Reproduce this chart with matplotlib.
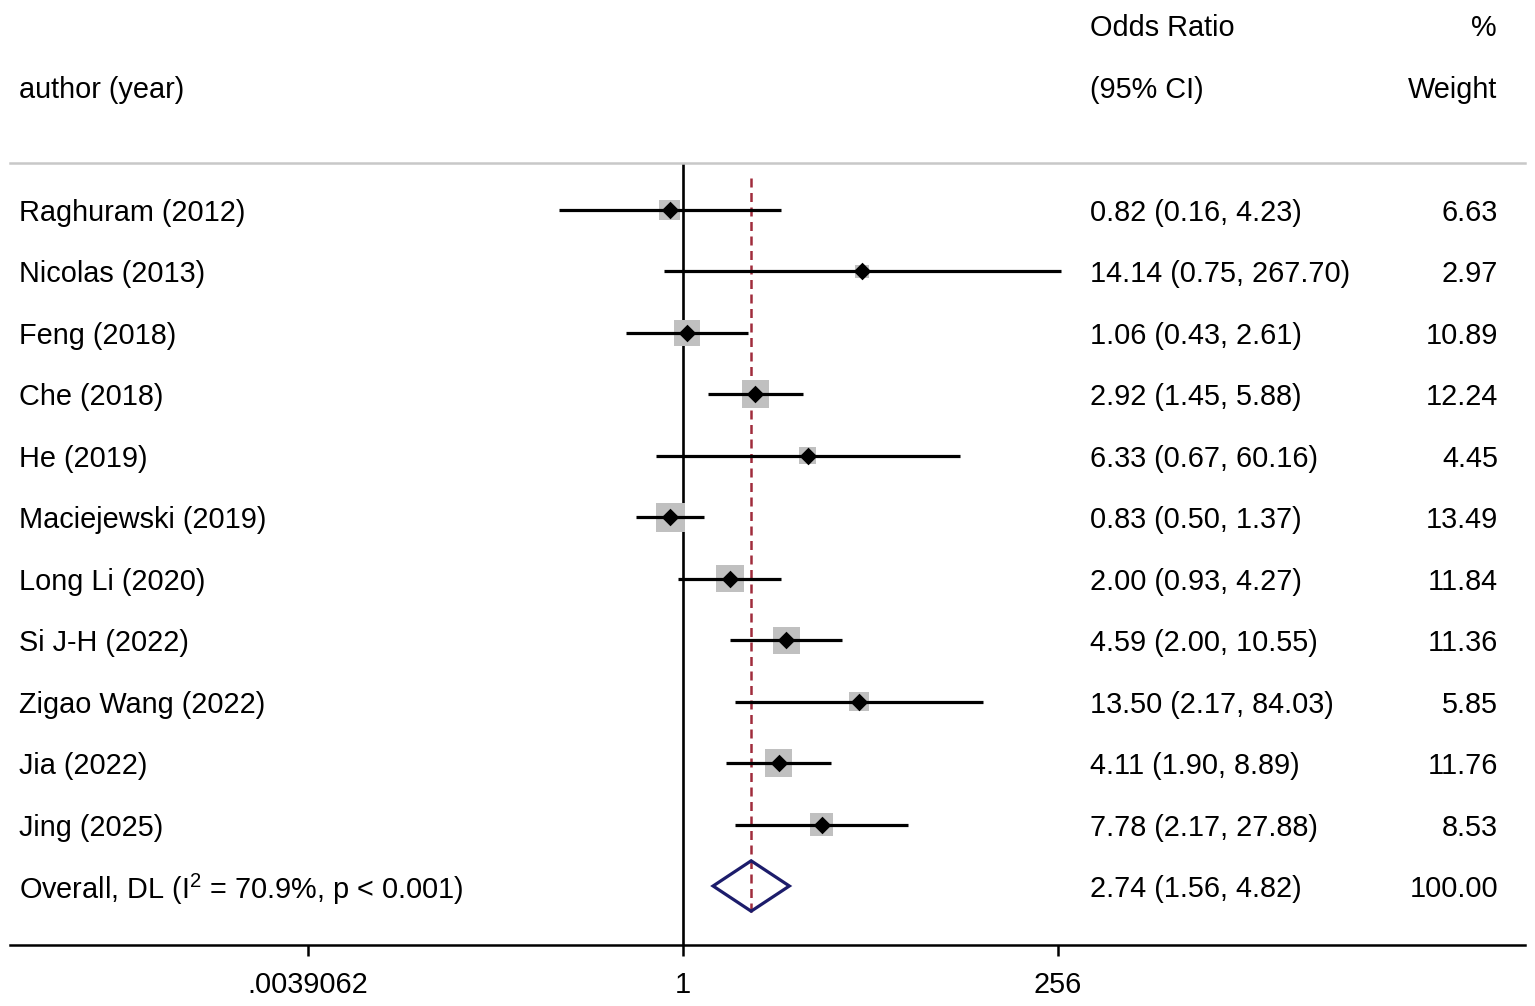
import matplotlib
matplotlib.use("Agg")
import matplotlib.pyplot as plt
import matplotlib.transforms as mtransforms
from matplotlib.patches import Polygon
import numpy as np

plt.rcParams['font.family'] = ['Liberation Sans', 'DejaVu Sans']
plt.rcParams['mathtext.default'] = 'regular'

studies = ["Raghuram (2012)", "Nicolas (2013)", "Feng (2018)", "Che (2018)", "He (2019)",
           "Maciejewski (2019)", "Long Li (2020)", "Si J-H (2022)", "Zigao Wang (2022)",
           "Jia (2022)", "Jing (2025)"]
odds = [0.82, 14.14, 1.06, 2.92, 6.33, 0.83, 2.00, 4.59, 13.50, 4.11, 7.78]
lower = [0.16, 0.75, 0.43, 1.45, 0.67, 0.50, 0.93, 2.00, 2.17, 1.90, 2.17]
upper = [4.23, 267.70, 2.61, 5.88, 60.16, 1.37, 4.27, 10.55, 84.03, 8.89, 27.88]
weights = [6.63, 2.97, 10.89, 12.24, 4.45, 13.49, 11.84, 11.36, 5.85, 11.76, 8.53]
overall_label = "Overall, DL (I$^2$ = 70.9%, p < 0.001)"
overall = (2.74, 1.56, 4.82)
xticks = [2**-8, 1, 256]
xticklabels = [".0039062", "1", "256"]

W, H = 1535, 1006
fig = plt.figure(figsize=(W/100, H/100), dpi=100)
ax = fig.add_axes([10/W, 1-945/H, 1515/W, (945-163)/H])

# x: log2 scale, pixel mapping 1 -> 683, 46.875 px per log2 unit
ppu = 375/8
xmin = 2**((10-683)/ppu)
xmax = 2**((1525-683)/ppu)
ax.set_xscale('log', base=2)
ax.set_xlim(xmin, xmax)
# y: rows
row_step = (886-210)/11
ytop = (163-210)/row_step
ybot = (945-210)/row_step
ax.set_ylim(ybot, ytop)

fs = 20.8
n = len(studies)
rows = np.arange(n)
for i in range(n):
    ax.plot([lower[i], upper[i]], [i, i], color='black', lw=2.3, zorder=3, solid_capstyle='butt')
ax.scatter(odds, rows, marker='s', s=[33*w for w in weights], color='#c0c0c0', zorder=2, linewidths=0)
ax.scatter(odds, rows, marker='D', s=80, color='black', zorder=4, linewidths=0)

# overall diamond
yo = n
est, lo, hi = overall
diam = Polygon([[lo, yo], [est, yo-0.41], [hi, yo], [est, yo+0.41]], closed=True,
               fill=False, edgecolor='#1c1c6b', lw=2.3, zorder=4)
ax.add_patch(diam)

# reference lines
ax.axvline(1, color='black', lw=1.9, zorder=1)
ax.plot([est, est], [-0.52, yo+0.47], color='#a02c3c', lw=1.8, ls=(0, (3.6, 2.2)), zorder=1)

# spines
for s in ['left', 'right']:
    ax.spines[s].set_visible(False)
ax.spines['top'].set_color('#c8c8c8')
ax.spines['top'].set_linewidth(1.8)
ax.spines['bottom'].set_linewidth(1.8)
ax.set_yticks([])
ax.set_xticks(xticks)
ax.set_xticklabels(xticklabels, fontsize=fs)
ax.minorticks_off()
ax.tick_params(axis='x', length=8, width=1.8, pad=11)

off = mtransforms.ScaledTranslation(0, -3/100, fig.dpi_scale_trans)
trans = mtransforms.blended_transform_factory(fig.transFigure, ax.transData) + off
for i in range(n):
    ax.text(19/W, i, studies[i], transform=trans, fontsize=fs, va='center', ha='left', clip_on=False)
    ax.text(1090/W, i, f"{odds[i]:.2f} ({lower[i]:.2f}, {upper[i]:.2f})", transform=trans,
            fontsize=fs, va='center', ha='left', clip_on=False)
    ax.text(1498/W, i, f"{weights[i]:.2f}", transform=trans, fontsize=fs, va='center', ha='right', clip_on=False)
ax.text(19/W, yo, overall_label, transform=trans, fontsize=fs, va='center', ha='left', clip_on=False)
ax.text(1090/W, yo, f"{est:.2f} ({lo:.2f}, {hi:.2f})", transform=trans, fontsize=fs, va='center', ha='left', clip_on=False)
ax.text(1498/W, yo, "100.00", transform=trans, fontsize=fs, va='center', ha='right', clip_on=False)

# headers
ftrans = fig.transFigure + off
fig.text(19/W, 1-87/H, "author (year)", fontsize=fs, va='center', ha='left', transform=ftrans)
fig.text(1090/W, 1-25/H, "Odds Ratio", fontsize=fs, va='center', ha='left', transform=ftrans)
fig.text(1090/W, 1-87/H, "(95% CI)", fontsize=fs, va='center', ha='left', transform=ftrans)
fig.text(1497/W, 1-25/H, "%", fontsize=fs, va='center', ha='right', transform=ftrans)
fig.text(1497/W, 1-87/H, "Weight", fontsize=fs, va='center', ha='right', transform=ftrans)

fig.savefig("out.png", dpi=100)
